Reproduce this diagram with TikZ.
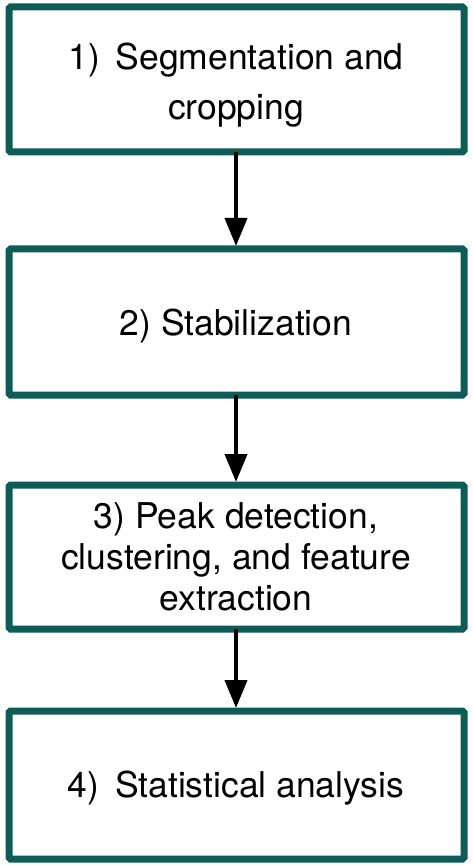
\documentclass[tikz,border=0pt]{standalone}
\usepackage{fontspec}
\setmainfont{TeX Gyre Heros}
\usetikzlibrary{arrows.meta}
\definecolor{boxteal}{RGB}{14,92,88}
\begin{document}
\begin{tikzpicture}[x=1pt,y=-1pt,
  stepbox/.style={draw=boxteal,line width=7pt,rounded corners=1.5pt,fill=white},
  steptext/.style={anchor=base,align=center,inner sep=0pt,font=\fontsize{35.5}{41}\selectfont},
  flowarrow/.style={line width=4pt,-{Triangle[length=28pt,width=22pt]},shorten >=3pt}]
\useasboundingbox (0,0) rectangle (472,866);
\draw[stepbox] (9,7) rectangle (464,152) node[pos=0.5,inner sep=0pt] (b1) {};
\draw[stepbox] (9,249) rectangle (464,395) node[pos=0.5,inner sep=0pt] (b2) {};
\draw[stepbox] (9,485) rectangle (464,629) node[pos=0.5,inner sep=0pt] (b3) {};
\draw[stepbox] (9,711) rectangle (464,859) node[pos=0.5,inner sep=0pt] (b4) {};
\coordinate (b1s) at (236,152);
\coordinate (b2n) at (236,249);
\coordinate (b2s) at (236,395);
\coordinate (b3n) at (236,485);
\coordinate (b3s) at (236,629);
\coordinate (b4n) at (236,711);
\node[steptext,font=\fontsize{35.5}{50}\selectfont] (t1) at (236,120) {1)\, Segmentation and\\cropping};
\node[steptext] (t2) at (236,335) {2) Stabilization};
\node[steptext] (t3) at (236,610) {3) Peak detection,\\clustering, and feature\\extraction};
\node[steptext] (t4) at (236,797) {4)\, Statistical analysis};
\draw[flowarrow] (b1s) -- (b2n);
\draw[flowarrow] (b2s) -- (b3n);
\draw[flowarrow] (b3s) -- (b4n);
\end{tikzpicture}
\end{document}
